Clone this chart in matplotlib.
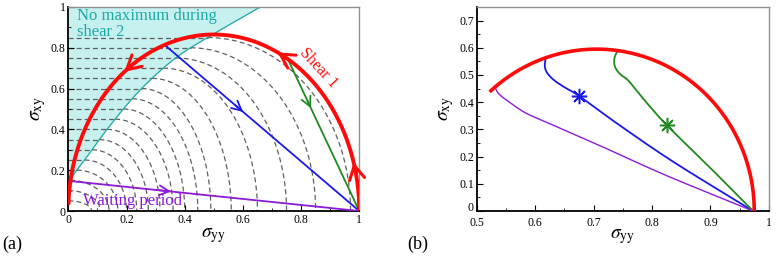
import numpy as np
import matplotlib
matplotlib.use("Agg")
import matplotlib.pyplot as plt
import matplotlib.transforms as mtransforms

plt.rcParams['font.family'] = ['Liberation Serif', 'DejaVu Serif']
plt.rcParams['mathtext.fontset'] = 'stix'

# ---------------- data: panel (a) ----------------
# cyan boundary ("no maximum during shear 2")
bound_x = [0.0, 0.013, 0.064, 0.144, 0.247, 0.368, 0.494, 0.66]
bound_y = [0.12, 0.168, 0.266, 0.42, 0.593, 0.749, 0.863, 1.0]
# dashed shear-2 curves: starting level and end point on the sigma_yy axis
arc_levels = [0.05, 0.10, 0.15, 0.20, 0.25, 0.30, 0.35, 0.40, 0.45, 0.50,
              0.55, 0.60, 0.65, 0.70, 0.75, 0.80, 0.85]
arc_end_x = [0.08, 0.11, 0.14, 0.17, 0.20, 0.235, 0.275, 0.315, 0.36, 0.40,
             0.445, 0.49, 0.56, 0.65, 0.75, 0.85, 0.97]
# shear 1 curve (ellipse): centre, semi-axes, angular range in degrees
shear1_center = 0.5
shear1_a = 0.5
shear1_b = 0.865
shear1_theta = [0, 178]
shear1_arrow_theta = [16, 64, 128]
# straight relaxation paths
blue_x = [0.335, 1.0]
blue_y = [0.809, 0.0]
green_x = [0.756, 1.0]
green_y = [0.74, 0.0]
purple_x = [0.005, 1.0]
purple_y = [0.147, 0.0]

# ---------------- data: panel (b) ----------------
shear1b_center = 0.705
shear1b_a = 0.27
shear1b_b = 0.595
shear1b_theta = [0, 132]
blue_b_x = [0.618, 0.6165, 0.618, 0.624, 0.634, 0.650, 0.675, 0.74, 0.837, 0.973]
blue_b_y = [0.565, 0.540, 0.518, 0.498, 0.478, 0.455, 0.423, 0.322, 0.180, 0.0]
green_b_x = [0.741, 0.736, 0.7355, 0.739, 0.747, 0.760, 0.790, 0.825, 0.90, 0.973]
green_b_y = [0.589, 0.565, 0.540, 0.520, 0.500, 0.478, 0.400, 0.316, 0.158, 0.0]
purple_b_x = [0.531, 0.534, 0.541, 0.556, 0.584, 0.626, 0.711, 0.825, 0.973]
purple_b_y = [0.460, 0.442, 0.424, 0.400, 0.360, 0.320, 0.240, 0.130, 0.0]
star_blue = (0.675, 0.423)
star_green = (0.825, 0.316)

RED = '#ff0a0a'
BLUE = '#1a1ae6'
GREEN = '#1f8a1f'
PURPLE = '#8c1ad6'
TEAL = '#1fa8a8'
CYAN_FILL = '#c6f1ee'
GRAY = '#606060'


def smooth(xs, ys, n=20):
    """Catmull-Rom curve through the given points."""
    p = np.column_stack([xs, ys]).astype(float)
    p = np.vstack([2 * p[0] - p[1], p, 2 * p[-1] - p[-2]])
    out = []
    t = np.linspace(0, 1, n, endpoint=False)[:, None]
    for i in range(1, len(p) - 2):
        p0, p1, p2, p3 = p[i - 1], p[i], p[i + 1], p[i + 2]
        seg = 0.5 * ((2 * p1) + (-p0 + p2) * t + (2 * p0 - 5 * p1 + 4 * p2 - p3) * t ** 2
                     + (-p0 + 3 * p1 - 3 * p2 + p3) * t ** 3)
        out.append(seg)
    out.append(p[-2][None, :])
    out = np.vstack(out)
    return out[:, 0], out[:, 1]


fig = plt.figure(figsize=(7.79, 2.78), dpi=100)
axa = fig.add_axes([0.0877, 0.241, 0.3735, 0.734])
axb = fig.add_axes([0.612, 0.241, 0.375, 0.734])


def style_axes(ax):
    for s in ['left', 'bottom']:
        ax.spines[s].set_color('black')
        ax.spines[s].set_linewidth(1.3)
    for s in ['top', 'right']:
        ax.spines[s].set_color('#909090')
        ax.spines[s].set_linewidth(1.0)
    ax.tick_params(which='both', direction='in', labelsize=8.5, pad=2)
    ax.tick_params(which='major', length=4)
    ax.tick_params(which='minor', length=2.5)


def arrow(ax, tail, tip, color, lw=1.3, hl=0.7, hw=0.35):
    ax.annotate('', xy=tip, xytext=tail,
                arrowprops=dict(arrowstyle=f'->,head_length={hl},head_width={hw}',
                                color=color, lw=lw, shrinkA=0, shrinkB=0))


# ---------- panel (a) ----------
ax = axa
bx, by = smooth(bound_x, bound_y, 15)
ax.fill_between(np.concatenate([[0], bx]), np.concatenate([[0.0], by]), 1.0,
                color=CYAN_FILL, lw=0, zorder=0)
ax.plot(bx, by, color=TEAL, lw=0.9, zorder=2)

for lev, xe in zip(arc_levels, arc_end_x):
    xb = np.interp(lev, by, bx)
    ax.plot([0, xb], [lev, lev], ls=(0, (4, 2.5)), color=GRAY, lw=0.9, zorder=1)
    t = np.linspace(0, np.pi / 2, 60)
    ax.plot(xb + (xe - xb) * np.sin(t), lev * np.cos(t),
            ls=(0, (4, 2.5)), color=GRAY, lw=0.9, zorder=1)

th = np.radians(np.linspace(shear1_theta[0], shear1_theta[1], 300))
ax.plot(shear1_center + shear1_a * np.cos(th), shear1_b * np.sin(th),
        color=RED, lw=2.8, zorder=4, solid_capstyle='butt')


def shear_pt(tdeg):
    t = np.radians(tdeg)
    return (shear1_center + shear1_a * np.cos(t), shear1_b * np.sin(t))


for tdeg in shear1_arrow_theta:
    arrow(ax, shear_pt(tdeg - 4), shear_pt(tdeg), RED, lw=2.2, hl=1.0, hw=0.55)

ax.plot(blue_x, blue_y, color=BLUE, lw=1.3, zorder=3)
ax.plot(green_x, green_y, color=GREEN, lw=1.3, zorder=3)
ax.plot(purple_x, purple_y, color=PURPLE, lw=1.3, zorder=3)


def along(xs, ys, f):
    return (xs[0] + f * (xs[1] - xs[0]), ys[0] + f * (ys[1] - ys[0]))


arrow(ax, along(blue_x, blue_y, 0.36), along(blue_x, blue_y, 0.40), BLUE)
arrow(ax, along(green_x, green_y, 0.27), along(green_x, green_y, 0.32), GREEN)
arrow(ax, along(purple_x, purple_y, 0.30), along(purple_x, purple_y, 0.35), PURPLE)

ax.text(0.03, 0.995, 'No maximum during\nshear 2', color=TEAL, fontsize=12,
        va='top', ha='left', linespacing=1.0, zorder=5)
ax.text(0.05, 0.01, 'Waiting period', color=PURPLE, fontsize=12,
        va='bottom', ha='left', zorder=5)
ax.text(0.86, 0.70, 'Shear 1', color=RED, fontsize=11.5, rotation=-47,
        ha='center', va='center', rotation_mode='anchor', zorder=5)

ax.set_xlim(0, 1)
ax.set_ylim(0, 1)
ax.set_xticks([0, 0.2, 0.4, 0.6, 0.8, 1.0])
ax.set_xticklabels(['0', '0.2', '0.4', '0.6', '0.8', '1'])
ax.set_yticks([0, 0.2, 0.4, 0.6, 0.8, 1.0])
ax.set_yticklabels(['0', '0.2', '0.4', '0.6', '0.8', '1'])
ax.set_xticks(np.arange(0, 1.01, 0.1), minor=True)
ax.set_yticks(np.arange(0, 1.01, 0.1), minor=True)
style_axes(ax)
ax.set_xlabel(r'$\sigma_{\rm yy}$', fontsize=14, labelpad=0)
ax.set_ylabel(r'$\sigma_{\rm xy}$', fontsize=14, labelpad=2)

# ---------- panel (b) ----------
ax = axb
th = np.radians(np.linspace(shear1b_theta[0], shear1b_theta[1], 300))
ax.plot(shear1b_center + shear1b_a * np.cos(th), shear1b_b * np.sin(th),
        color=RED, lw=2.6, zorder=4)
ax.plot(*smooth(blue_b_x, blue_b_y), color=BLUE, lw=1.3, zorder=3)
ax.plot(*smooth(green_b_x, green_b_y), color=GREEN, lw=1.3, zorder=3)
ax.plot(*smooth(purple_b_x, purple_b_y), color=PURPLE, lw=1.0, zorder=3)
ax.plot(*star_blue, marker=(8, 2, 0), color=BLUE, ms=11, mew=1.1, zorder=5)
ax.plot(*star_green, marker=(8, 2, 0), color=GREEN, ms=11, mew=1.1, zorder=5)

ax.set_xlim(0.5, 1.0)
ax.set_ylim(0, 0.75)
ax.set_xticks([0.5, 0.6, 0.7, 0.8, 0.9, 1.0])
ax.set_xticklabels(['0.5', '0.6', '0.7', '0.8', '0.9', '1'])
ax.set_yticks([0, 0.1, 0.2, 0.3, 0.4, 0.5, 0.6, 0.7])
ax.set_yticklabels(['0', '0.1', '0.2', '0.3', '0.4', '0.5', '0.6', '0.7'])
ax.set_xticks(np.arange(0.5, 1.001, 0.05), minor=True)
ax.set_yticks(np.arange(0, 0.751, 0.05), minor=True)
style_axes(ax)
ax.tick_params(axis='x', pad=4)
ax.set_xlabel(r'$\sigma_{\rm yy}$', fontsize=14, labelpad=-1)
ax.set_ylabel(r'$\sigma_{\rm xy}$', fontsize=14, labelpad=2)
# nudge the lowest y label up slightly so it does not collide with "0.5"
lbl0 = ax.get_yticklabels()[0]
lbl0.set_transform(lbl0.get_transform() +
                   mtransforms.ScaledTranslation(0, 3 / 72, fig.dpi_scale_trans))

fig.text(0.003, 0.12, '(a)', fontsize=13, ha='left', va='center')
fig.text(0.523, 0.12, '(b)', fontsize=13, ha='left', va='center')

fig.savefig('out.png', dpi=100)
